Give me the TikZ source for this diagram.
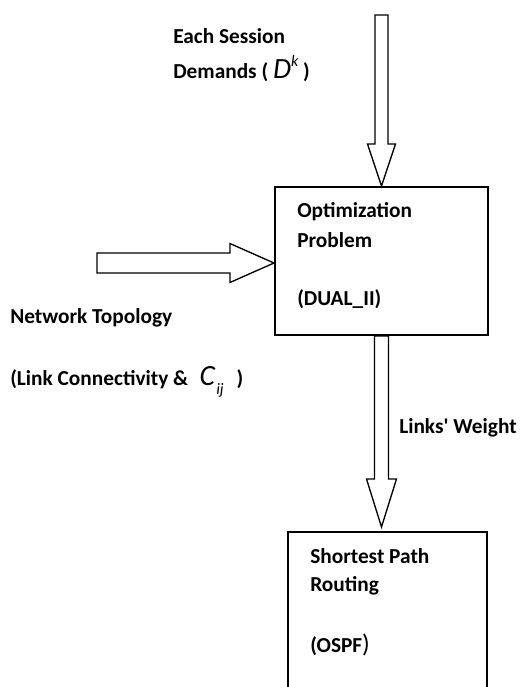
\documentclass[tikz,border=0pt]{standalone}
\usepackage{fontspec}
\setmainfont{Carlito}
\usetikzlibrary{calc}
\usetikzlibrary{positioning}
\tikzset{box/.style = {draw, line width = 1.5pt, inner sep = 0}}
\tikzset{lbl/.style = {anchor = base west, inner sep = 0,
                       font = \fontsize{16}{19}\selectfont\bfseries}}
\tikzset{fat/.style = {draw, line width = 1pt, fill = white, line join = miter}}
\newcommand{\symb}[1]{{\fontsize{22}{22}\selectfont\mdseries\itshape #1}}
\newcommand{\sups}[1]{\raisebox{0.55em}{\fontsize{12}{12}\selectfont\mdseries\itshape #1}}
\newcommand{\subs}[1]{\raisebox{-0.45em}{\fontsize{12}{12}\selectfont\mdseries\itshape #1}}
% hollow block arrow: from, to, half shaft, half head, head length
\newcommand{\fatarrow}[5]{%
  \draw [fat] let \p1 = ($(#2)-(#1)$), \n1 = {atan2(\y1,\x1)}, \n2 = {veclen(\x1,\y1)} in
    [shift = {(#1)}, rotate = \n1]
    (0pt, #3) -- ({\n2-#5}, #3) -- ({\n2-#5}, #4) -- (\n2, 0pt)
    -- ({\n2-#5}, -#4) -- ({\n2-#5}, -#3) -- (0pt, -#3) -- cycle;}

\begin{document}
\begin{tikzpicture}[x = 0.75pt, y = -0.75pt]
      \useasboundingbox (0, 0) rectangle (521, 687);
      \clip (0, 0) rectangle (521, 687);

      \node [box, minimum width = 159.75pt, minimum height = 111pt] (opt) at (381.5, 261) {};
      \node [box, minimum width = 149.25pt, minimum height = 171pt] (route) at (387.5, 646) {};

      \coordinate (sd) at (381.5, 15);
      \coordinate (nt) at (97, 263);
      \coordinate (wt) at (381.5, 527);

      \fatarrow{sd}{opt.north}{4.9pt}{10.5pt}{31.5pt}
      \fatarrow{nt}{opt.west |- nt}{7.5pt}{14.6pt}{33pt}
      \fatarrow{opt.south}{wt}{5.25pt}{11.25pt}{36pt}

      \node [lbl] (each) at (173, 43) {Each Session};
      \node [lbl] (dem) at (173, 78) {Demands ( \symb{D}\sups{k} )};
      \node [lbl] (topo) at (10, 323) {Network Topology};
      \node [lbl] (conn) at (10, 385)
            {(Link Connectivity \&\hspace{5pt} \symb{C}\hspace{1pt}\subs{ij}\hspace{6pt} )};
      \node [lbl] (weight) at (399, 433) {Links\textquotesingle\ Weight};

      \node [lbl] (opt1) at (297, 217) {Optimization};
      \node [lbl] (opt2) at (297, 247) {Problem};
      \node [lbl] (opt3) at (297, 305) {(DUAL\_II)};

      \node [lbl] (rt1) at (310, 563) {Shortest Path};
      \node [lbl] (rt2) at (310, 591) {Routing};
      \node [lbl] (rt3) at (310, 652) {(OSPF{\fontsize{19}{19}\selectfont\mdseries )}};
    \end{tikzpicture}
\end{document}
